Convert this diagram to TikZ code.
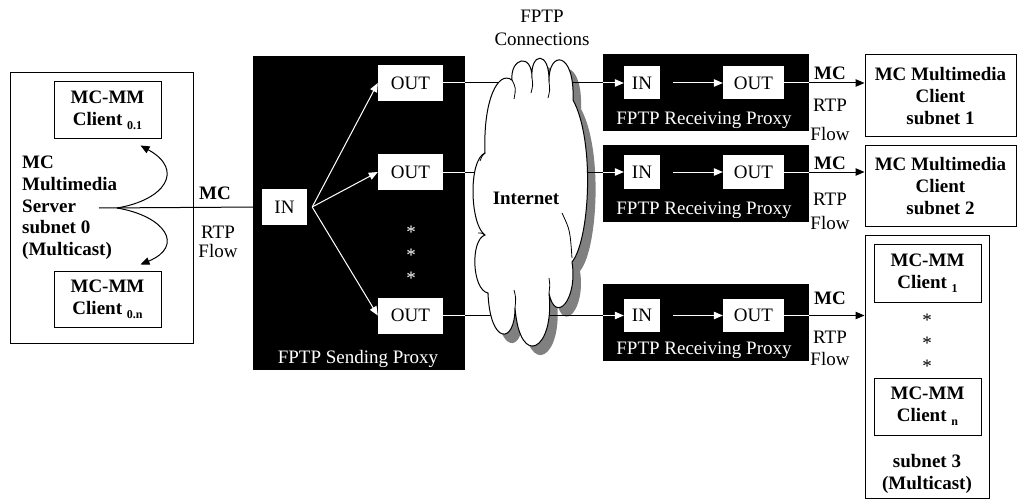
\documentclass[tikz,border=0pt]{standalone}
\usepackage{fontspec}
\setmainfont{Liberation Serif}
\usetikzlibrary{arrows.meta,calc}
\definecolor{shadowgray}{RGB}{128,128,128}
\newcommand\lowsub[1]{\raisebox{-4pt}{\fontsize{12}{12}\selectfont #1}}
% outline of the Internet cloud (x right, y down, units = pt)
\newcommand\cloudoutline{(512,80) .. controls (510,58) and (532,52) .. (532,78)
  .. controls (530,52) and (550,50) .. (549,82)
  .. controls (548,50) and (575,50) .. (573,100)
  .. controls (595,140) and (590,240) .. (572,262)
  .. controls (578,300) and (555,325) .. (549,293)
  .. controls (555,350) and (520,370) .. (515,308)
  .. controls (515,345) and (490,345) .. (488,293)
  .. controls (472,290) and (470,240) .. (485,235)
  .. controls (470,225) and (468,160) .. (485,153)
  .. controls (483,100) and (498,70) .. (512,80) -- cycle}
\tikzset{
  txt/.style={font=\fontsize{19}{22}\selectfont, inner sep=0pt},
  btxt/.style={font=\fontsize{19}{22}\selectfont\bfseries, inner sep=0pt, align=center},
  frame/.style={draw, line width=1pt, fill=white, inner sep=0pt},
  proxy/.style={fill=black, inner sep=0pt},
  port/.style={fill=white, inner sep=0pt, font=\fontsize{19}{22}\selectfont},
  wtxt/.style={txt, text=white},
  tip/.style={-{Triangle[length=9pt,width=7.5pt]}},
  link/.style={line width=1pt},
  wlink/.style={line width=1pt, draw=white, fill=white},
}
\begin{document}
\begin{tikzpicture}[x=1pt,y=-1pt]
\useasboundingbox (0,0) rectangle (1020,500);

% ---- multicast server subnet 0
\node[frame, minimum width=183pt, minimum height=270pt] (srvbox) at (101.5,208) {};
\node[frame, btxt, minimum width=107pt, minimum height=57pt] (c01) at (107.5,110.5) {MC-MM\\Client \lowsub{0.1}};
\node[frame, btxt, minimum width=107pt, minimum height=56pt] (c0n) at (107.5,299) {MC-MM\\Client \lowsub{0.n}};
\node[btxt, anchor=west, align=left, font=\fontsize{19}{21.7}\selectfont\bfseries] (srv) at (22,208)
  {MC\\Multimedia\\Server\\subnet 0\\(Multicast)};
\coordinate (srvout) at (99,208);
\coordinate (fork) at (117,208);
\draw[link, tip] (fork) .. controls (165,200) and (185,170) .. ([xshift=-21pt,yshift=-6pt]c01.south east);
\draw[link, tip] (fork) .. controls (165,216) and (185,246) .. ([xshift=-21pt,yshift=6pt]c0n.north east);

\node[btxt] (mc0) at (215,193) {MC};
\node[txt, align=center, font=\fontsize{19}{18.5}\selectfont] (rtp0) at (218,242) {RTP\\Flow};

% ---- sending proxy
\node[proxy, minimum width=212pt, minimum height=314pt] (sp) at (359,213) {};
\node[port, minimum width=45pt, minimum height=36pt] (sin) at (284.5,207) {IN};
\node[port, minimum width=65pt, minimum height=36pt] (sout1) at (410.5,83) {OUT};
\node[port, minimum width=65pt, minimum height=36pt] (sout2) at (410.5,172) {OUT};
\node[port, minimum width=65pt, minimum height=36pt] (sout3) at (410.5,315.5) {OUT};
\node[wtxt] (sdot1) at (411,232) {*};
\node[wtxt] (sdot2) at (411,255) {*};
\node[wtxt] (sdot3) at (411,278) {*};
\node[wtxt] (splbl) at (358,359) {FPTP Sending Proxy};
\draw[link] (srvout) -- (sin.west);
\foreach \o in {sout1,sout2,sout3}
  \draw[wlink, tip] ([xshift=5pt]sin.east) -- (\o.west);

% ---- receiving proxies
\foreach \i/\y in {1/92.5,2/183.5,3/322.5}
  \node[proxy, minimum width=206pt, minimum height=77pt] (rp\i) at (706,\y) {};
\foreach \i/\y in {1/83,2/172,3/315.5}{
  \node[port, minimum width=36pt, minimum height=33pt] (rin\i) at (642,\y) {IN};
  \node[port, minimum width=61pt, minimum height=33pt] (rout\i) at (753.5,\y) {OUT};
  \draw[wlink, tip, shorten <=13pt] (rin\i.east) -- (rout\i.west);
}
\node[wtxt] (rplbl1) at (704,120) {FPTP Receiving Proxy};
\node[wtxt] (rplbl2) at (704,210) {FPTP Receiving Proxy};
\node[wtxt] (rplbl3) at (704,350) {FPTP Receiving Proxy};

% ---- clients
\node[frame, btxt, minimum width=151pt, minimum height=82pt] (cl1) at (940.5,96) {MC Multimedia\\Client\\subnet 1};
\node[frame, btxt, minimum width=151pt, minimum height=80pt] (cl2) at (940.5,186) {MC Multimedia\\Client\\subnet 2};
\node[frame, minimum width=124pt, minimum height=263pt] (sub3) at (927,366.5) {};
\node[frame, btxt, minimum width=107pt, minimum height=58pt] (cm1) at (927.5,273) {MC-MM\\Client \lowsub{1}};
\node[frame, btxt, minimum width=107pt, minimum height=57pt] (cmn) at (927.5,406.5) {MC-MM\\Client \lowsub{n}};
\node[txt] (cdot1) at (927,320) {*};
\node[txt] (cdot2) at (927,343) {*};
\node[txt] (cdot3) at (927,366) {*};
\node[btxt] (sub3lbl) at (927,474) {subnet 3\\(Multicast)};

% ---- receiving side flows
\foreach \i/\c in {1/cl1,2/cl2,3/sub3}{
  \draw[link, tip] (rout\i.east) -- (\c.west |- rout\i.east);
  \draw[wlink] (rout\i.east) -- (rp\i.east |- rout\i.east);
}
\node[btxt] (mc1) at (830,73) {MC};
\node[txt] (rtp1) at (830,105) {RTP};
\node[txt] (flw1) at (830,134) {Flow};
\node[btxt] (mc2) at (830,163) {MC};
\node[txt] (rtp2) at (830,199) {RTP};
\node[txt] (flw2) at (830,223) {Flow};
\node[btxt] (mc3) at (830,298) {MC};
\node[txt] (rtp3) at (830,337) {RTP};
\node[txt] (flw3) at (830,359) {Flow};

% ---- FPTP connections through the Internet
\begin{scope}[xshift=8pt, yshift=-9pt]
  \fill[shadowgray] \cloudoutline;
\end{scope}
\foreach \i in {1,2,3}{
  \draw[link] (sout\i.east) -- (rin\i.west);
  \draw[wlink] (sout\i.east) -- (sp.east |- sout\i.east);
  \draw[wlink, tip] (rp\i.west |- rin\i.west) -- (rin\i.west);
}
\draw[fill=white, line width=1pt] \cloudoutline;
\draw[line width=0.8pt] (512,80) .. controls (516,88) .. (514,99);
\draw[line width=0.8pt] (532,78) .. controls (533,85) .. (531,93);
\draw[line width=0.8pt] (549,82) .. controls (550,90) .. (548,98);
\draw[line width=0.8pt] (562,213) .. controls (570,230) .. (572,258);
\draw[line width=0.8pt] (549,293) .. controls (550,285) .. (549,278);
\draw[line width=0.8pt] (515,308) .. controls (516,298) .. (514,290);
\draw[line width=0.8pt] (485,235) .. controls (482,233) .. (478,233);
\draw[line width=0.8pt] (485,153) .. controls (482,156) .. (480,161);
\node[btxt] (inet) at (526,198) {Internet};
\node[txt, align=center, font=\fontsize{19}{23}\selectfont] (conn) at (542,28) {FPTP\\Connections};
\end{tikzpicture}
\end{document}
